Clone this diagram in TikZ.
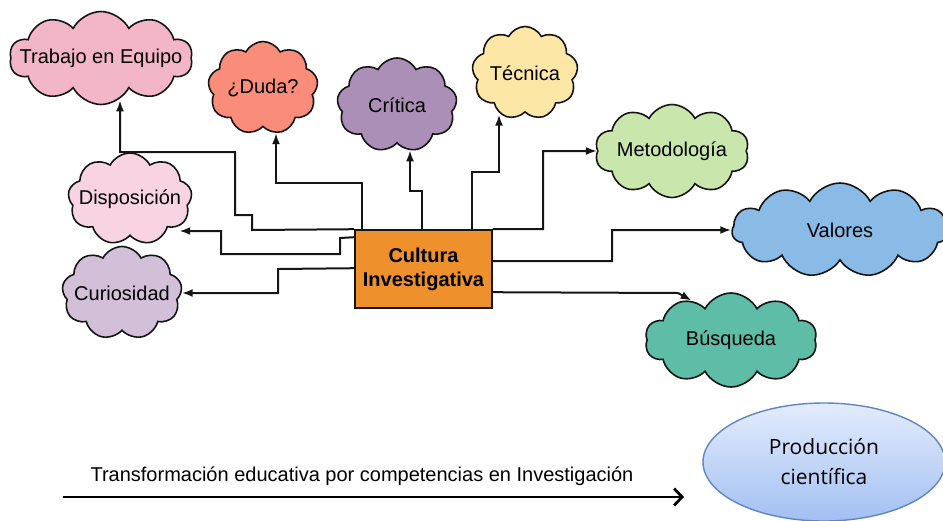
\documentclass[tikz,border=0pt]{standalone}
\usepackage{fontspec}
\setmainfont{Liberation Sans}
\newfontfamily\prodfont{Open Sans}
\usetikzlibrary{shapes.symbols,shapes.geometric,arrows.meta}
\definecolor{trabC}{HTML}{F2B6C8}
\definecolor{dudaC}{HTML}{F98D79}
\definecolor{critC}{HTML}{AB8FB7}
\definecolor{tecC}{HTML}{FDE7A6}
\definecolor{metC}{HTML}{C9E7AC}
\definecolor{valC}{HTML}{89BBE6}
\definecolor{busC}{HTML}{5EBDA6}
\definecolor{dispC}{HTML}{F8D3E1}
\definecolor{curC}{HTML}{D2BFD8}
\definecolor{boxC}{HTML}{EE902B}
\definecolor{prodTop}{HTML}{E3ECFC}
\definecolor{prodBot}{HTML}{A3C0F3}
\definecolor{prodLine}{HTML}{6085C4}
\definecolor{lineC}{HTML}{151515}
\tikzset{
  cloudy/.style={cloud, cloud puffs=10, cloud puff arc=125, cloud ignores aspect,
    draw=lineC, line width=1.6pt, inner sep=0pt, font=\fontsize{20}{24}\selectfont},
  conn/.style={line width=2pt, draw=lineC, -{Latex[length=11pt,width=8pt]}},
  cultbox/.style={draw=lineC, line width=1.6pt, fill=boxC, minimum width=137pt,
    minimum height=78pt, inner sep=0pt, align=center, font=\fontsize{20}{24}\selectfont\bfseries},
  bigarrow/.style={line width=2.8pt, draw=black, -{Straight Barb[length=8pt,width=17pt]}},
}
\begin{document}
\begin{tikzpicture}[x=1pt,y=-1pt]
\useasboundingbox (0,0) rectangle (943,520);
% clouds
\node[cloudy, fill=trabC, minimum width=183pt, minimum height=93pt] (trab) at (101,58) {\makebox[0pt]{Trabajo en Equipo}};
\node[cloudy, fill=dudaC, cloud puffs=9, minimum width=110pt, minimum height=93pt] (duda) at (263,88) {\makebox[0pt]{¿Duda?}};
\node[cloudy, fill=critC, cloud puffs=9, minimum width=120pt, minimum height=94pt] (crit) at (397,105) {\makebox[0pt]{Crítica}};
\node[cloudy, fill=tecC, cloud puffs=9, minimum width=106pt, minimum height=93pt] (tec) at (525,73) {\makebox[0pt]{Técnica}};
\node[cloudy, fill=metC, minimum width=154pt, minimum height=93pt] (met) at (672,151) {\makebox[0pt]{Metodología}};
\node[cloudy, fill=valC, cloud puffs=11, minimum width=216pt, minimum height=94pt] (val) at (840,230) {\makebox[0pt]{Valores}};
\node[cloudy, fill=busC, minimum width=172pt, minimum height=94pt] (bus) at (731,340) {\makebox[0pt]{Búsqueda}};
\node[cloudy, fill=dispC, cloud puffs=9, minimum width=124pt, minimum height=92pt] (disp) at (130,199) {\makebox[0pt]{Disposición}};
\node[cloudy, fill=curC, cloud puffs=9, minimum width=120pt, minimum height=93pt] (cur) at (122,293) {\makebox[0pt]{Curiosidad}};
% central box
\node[cultbox] (cul) at (423.5,269) {Cultura\\Investigativa};
% connectors
\draw[conn] (cul.north west) -- (252,230) -- (252,215) -- (235,215) -- (235,152) -- (120,152) -- (trab.-68 -| 120,0);
\draw[conn] ([xshift=8pt]cul.north west) |- (276,183) -- (duda.-74 -| 276,0);
\draw[conn] ([xshift=68pt]cul.north west) |- (410,191) -- (crit.-75 -| 410,0);
\draw[conn] ([xshift=118pt]cul.north west) |- (499,172) -- (tec.-120 -| 499,0);
\draw[conn] (cul.north east) -| (543,151) -- (met.west);
\draw[conn] ([yshift=-32pt]cul.north east) -| (612,230) -- (val.west);
\draw[conn] ([yshift=-63pt]cul.north east) -- (678,293) -- (bus.135);
\draw[conn] ([yshift=-8pt]cul.north west) -- (340,238) -- (340,254) -- (221,254) -- (221,231) -- (disp.-29 |- 0,231);
\draw[conn] ([yshift=-39pt]cul.north west) -- (278,269) |- (cur.east);
% bottom
\node[ellipse, draw=prodLine, line width=1.4pt, top color=prodTop, bottom color=prodBot,
  minimum width=242pt, minimum height=118pt, inner sep=0pt, align=center,
  font=\prodfont\fontsize{21}{30}\selectfont] (prod) at (824,462) {Producción\\científica};
\node[anchor=base, font=\fontsize{20}{24}\selectfont, inner sep=0pt] (trans) at (362,481) {Transformación educativa por competencias en Investigación};
\coordinate (arrS) at (63,497);
\coordinate (arrE) at (684,497);
\draw[bigarrow] (arrS) -- (arrE);
\end{tikzpicture}
\end{document}
